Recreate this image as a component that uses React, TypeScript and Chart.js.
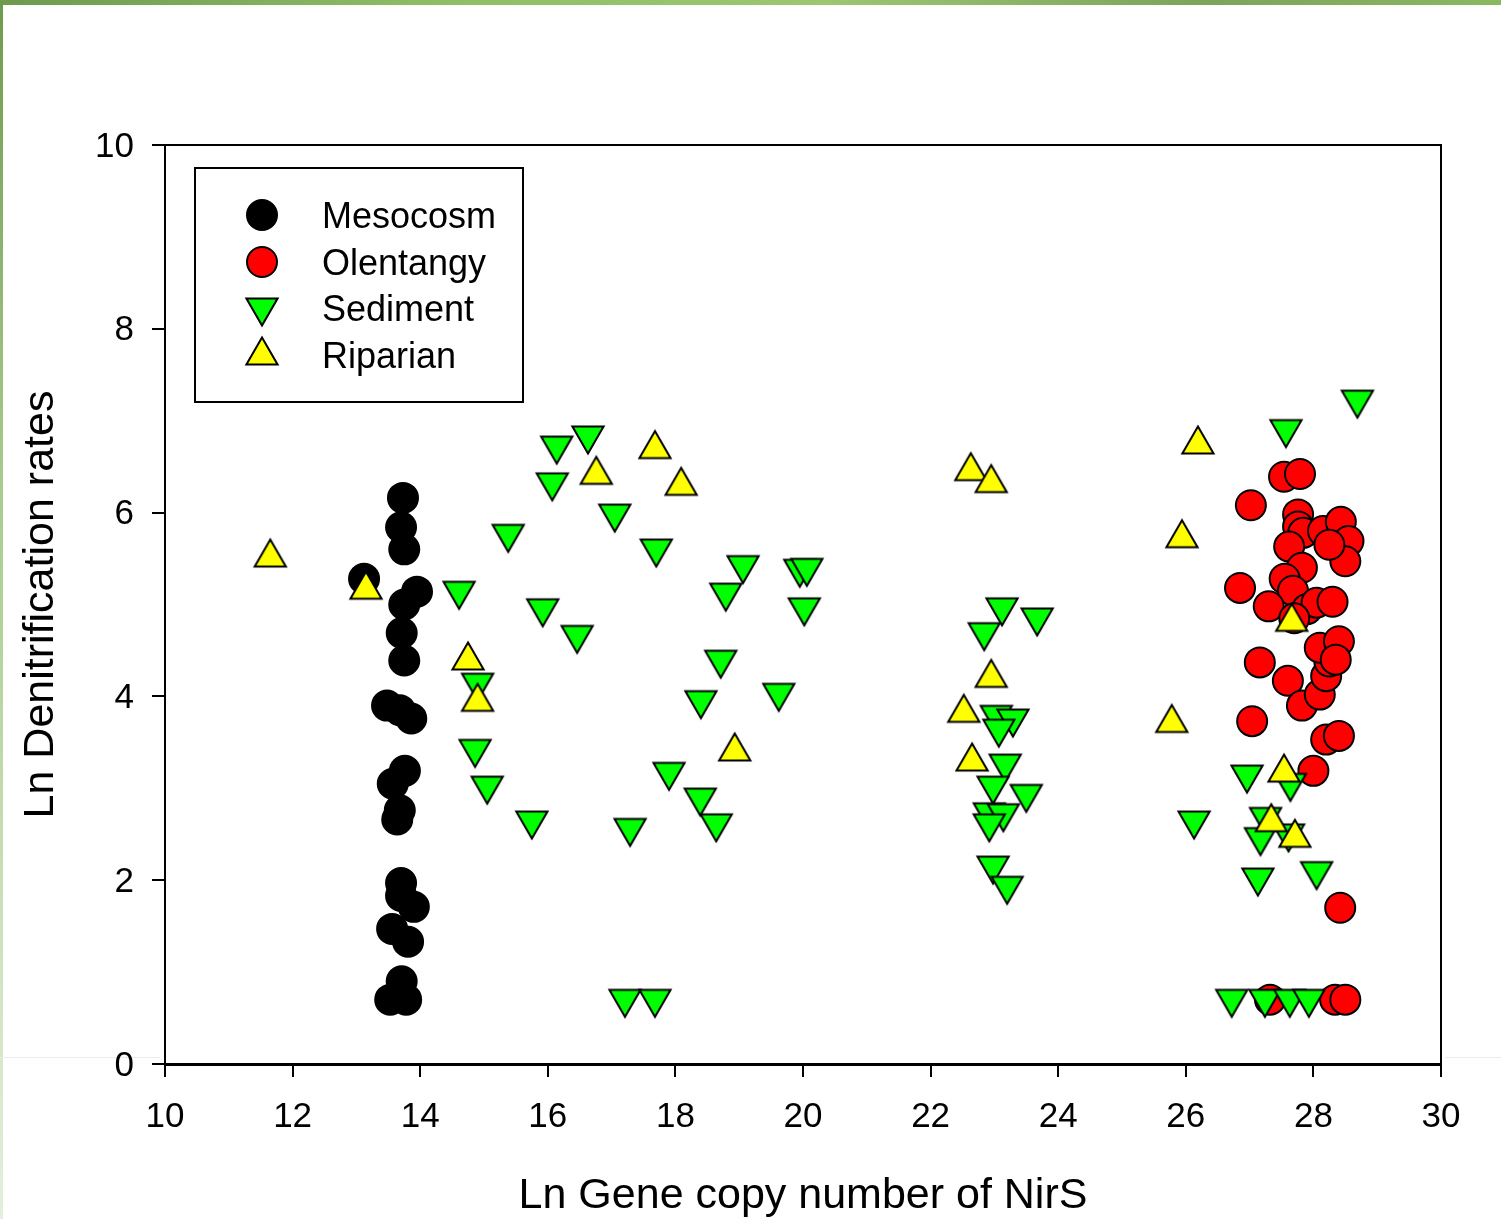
import React, { useEffect, useRef } from "react";
import { Chart, registerables } from "chart.js";

Chart.register(...registerables);

const FONT = "'Liberation Sans', Arial, Helvetica, sans-serif";

// ---- Data (Ln gene copy number of NirS vs Ln denitrification rates) ----
const seriesNames = ["Mesocosm", "Olentangy", "Sediment", "Riparian"];
const xTicks = [10, 12, 14, 16, 18, 20, 22, 24, 26, 28, 30];
const yTicks = [0, 2, 4, 6, 8, 10];

const mesocosmX = [13.73, 13.70, 13.75, 13.12, 13.95, 13.75, 13.71, 13.75, 13.48, 13.68, 13.86, 13.76, 13.57, 13.68, 13.64, 13.70, 13.70, 13.90, 13.56, 13.81, 13.71, 13.53, 13.78];
const mesocosmY = [6.16, 5.84, 5.60, 5.28, 5.14, 5.00, 4.69, 4.39, 3.90, 3.85, 3.76, 3.19, 3.05, 2.76, 2.66, 1.97, 1.83, 1.71, 1.47, 1.33, 0.90, 0.70, 0.70];

const olentangyX = [27.54, 27.79, 27.02, 27.76, 27.76, 27.84, 28.15, 28.43, 28.55, 28.50, 27.62, 27.82, 28.25, 26.85, 27.55, 27.68, 27.30, 27.90, 28.05, 28.30, 27.70, 27.16, 27.60, 27.82, 28.10, 28.20, 28.25, 28.10, 28.40, 27.04, 28.20, 28.40, 28.00, 28.42, 27.32, 28.34, 28.50, 28.35];
const olentangyY = [6.39, 6.42, 6.08, 5.98, 5.85, 5.78, 5.80, 5.90, 5.69, 5.47, 5.63, 5.40, 5.65, 5.18, 5.28, 5.15, 4.98, 4.95, 5.02, 5.03, 4.85, 4.37, 4.17, 3.90, 4.02, 4.22, 4.38, 4.53, 4.60, 3.73, 3.53, 3.57, 3.19, 1.70, 0.70, 0.70, 0.70, 4.40];

const sedimentX = [14.61, 14.90, 14.86, 15.05, 15.38, 15.75, 15.92, 16.07, 16.14, 16.46, 16.63, 17.05, 17.21, 17.29, 17.68, 17.70, 17.90, 18.39, 18.40, 18.64, 18.71, 18.79, 19.06, 19.62, 19.95, 20.06, 20.02,
  23.12, 23.67, 22.84, 23.03, 23.29, 23.07, 23.17, 22.98, 23.50, 22.92, 23.14, 22.92, 22.98, 23.20,
  28.69, 27.57, 26.96, 27.64, 27.25, 27.17, 27.61, 26.13, 27.13, 28.05, 26.72, 27.24, 27.63, 27.93];
const sedimentY = [5.10, 4.10, 3.38, 2.98, 5.72, 2.60, 4.91, 6.28, 6.68, 4.62, 6.79, 5.94, 0.66, 2.52, 0.66, 5.56, 3.13, 2.85, 3.91, 2.57, 4.35, 5.08, 5.38, 3.99, 5.34, 5.35, 4.92,
  4.92, 4.81, 4.65, 3.75, 3.71, 3.60, 3.22, 2.98, 2.89, 2.69, 2.68, 2.57, 2.11, 1.89,
  7.18, 6.86, 3.10, 3.01, 2.64, 2.42, 2.46, 2.60, 1.98, 2.05, 0.66, 0.66, 0.66, 0.66];

const riparianX = [11.65, 13.15, 14.75, 14.90, 16.76, 17.68, 18.09, 18.93, 22.63, 22.95, 22.95, 22.52, 22.65, 25.78, 25.94, 26.19, 27.66, 27.54, 27.34, 27.71];
const riparianY = [5.56, 5.21, 4.44, 3.99, 6.46, 6.74, 6.34, 3.45, 6.50, 6.37, 4.25, 3.87, 3.34, 3.76, 5.77, 6.79, 4.86, 3.22, 2.68, 2.51];

const xTitle = "Ln Gene copy number of NirS";
const yTitle = "Ln Denitrification rates";

const toPoints = (xs: number[], ys: number[]) => xs.map((x, i) => ({ x, y: ys[i] }));

const COLORS = ["#000000", "#ff0000", "#00ff00", "#ffff00"];

// Triangle marker image centred on its bounding box (as in the source figure)
function triangleImage(color: string, down: boolean): HTMLCanvasElement {
  const c = document.createElement("canvas");
  c.width = 38;
  c.height = 34;
  const ctx = c.getContext("2d")!;
  const cx = 19, cy = 17, hw = 15.6, hh = 13.5;
  ctx.beginPath();
  if (down) {
    ctx.moveTo(cx - hw, cy - hh);
    ctx.lineTo(cx + hw, cy - hh);
    ctx.lineTo(cx, cy + hh);
  } else {
    ctx.moveTo(cx, cy - hh);
    ctx.lineTo(cx + hw, cy + hh);
    ctx.lineTo(cx - hw, cy + hh);
  }
  ctx.closePath();
  ctx.fillStyle = color;
  ctx.fill();
  ctx.lineWidth = 2;
  ctx.lineJoin = "miter";
  ctx.strokeStyle = "#000";
  ctx.stroke();
  return c;
}

const framePlugin = {
  id: "frame",
  beforeDatasetsDraw(chart: any) {
    const { ctx, chartArea: a } = chart;
    ctx.save();
    ctx.strokeStyle = "#000";
    ctx.lineWidth = 2;
    ctx.beginPath();
    ctx.moveTo(a.left, a.top);
    ctx.lineTo(a.right, a.top);
    ctx.lineTo(a.right, a.bottom);
    ctx.stroke();
    ctx.restore();
  },
};

export default function App() {
  const ref = useRef<HTMLCanvasElement>(null);
  useEffect(() => {
    document.body.style.margin = "0";
    const downTri = triangleImage(COLORS[2], true);
    const upTri = triangleImage(COLORS[3], false);
    const styles: any[] = ["circle", "circle", downTri, upTri];

    const legendPlugin = {
      id: "boxLegend",
      afterDraw(chart: any) {
        const ctx: CanvasRenderingContext2D = chart.ctx;
        ctx.save();
        ctx.fillStyle = "#fff";
        ctx.fillRect(195, 168, 328, 234);
        ctx.strokeStyle = "#000";
        ctx.lineWidth = 2;
        ctx.strokeRect(195, 168, 328, 234);
        const rows = [215, 262, 308, 355];
        const markerY = [215, 262, 312, 351];
        seriesNames.forEach((name, i) => {
          if (i < 2) {
            ctx.beginPath();
            ctx.arc(262, markerY[i], 15, 0, Math.PI * 2);
            ctx.fillStyle = COLORS[i];
            ctx.fill();
            ctx.lineWidth = 2;
            ctx.strokeStyle = "#000";
            ctx.stroke();
          } else {
            const img = styles[i] as HTMLCanvasElement;
            ctx.drawImage(img, 262 - img.width / 2, markerY[i] - img.height / 2);
          }
          ctx.fillStyle = "#000";
          ctx.font = `36px ${FONT}`;
          ctx.textBaseline = "middle";
          ctx.textAlign = "left";
          ctx.fillText(name, 322, rows[i] + 3);
        });
        ctx.restore();
      },
    };

    const tickFont = { family: FONT, size: 35 };
    const titleFont = { family: FONT, size: 43, lineHeight: 1.05 };
    const common = (n: string, i: number) => ({
      label: n,
      pointRadius: 15,
      pointHoverRadius: 15,
      pointStyle: styles[i],
      backgroundColor: COLORS[i],
      borderColor: "#000",
      borderWidth: 2,
      order: 3 - i,
    });
    const chart = new Chart(ref.current!, {
      type: "scatter",
      data: {
        datasets: [
          { ...common(seriesNames[0], 0), data: toPoints(mesocosmX, mesocosmY) },
          { ...common(seriesNames[1], 1), data: toPoints(olentangyX, olentangyY) },
          { ...common(seriesNames[2], 2), data: toPoints(sedimentX, sedimentY) },
          { ...common(seriesNames[3], 3), data: toPoints(riparianX, riparianY) },
        ] as any,
      },
      options: {
        animation: false,
        responsive: false,
        events: [],
        layout: { padding: { left: 0, right: 60, top: 145, bottom: 0 } },
        plugins: { legend: { display: false }, tooltip: { enabled: false } },
        scales: {
          x: {
            type: "linear",
            min: xTicks[0],
            max: xTicks[xTicks.length - 1],
            afterBuildTicks: (s: any) => { s.ticks = xTicks.map((v) => ({ value: v })); },
            ticks: { font: tickFont, color: "#000", padding: 19, maxRotation: 0, autoSkip: false },
            grid: { display: true, drawOnChartArea: false, drawTicks: true, tickLength: 13, color: "#000", lineWidth: 2 },
            border: { display: true, color: "#000", width: 3 },
            title: { display: true, text: xTitle, font: titleFont, color: "#000", padding: { top: 0, bottom: 0 } },
            afterFit: (s: any) => { s.height = 155; },
          },
          y: {
            type: "linear",
            min: yTicks[0],
            max: yTicks[yTicks.length - 1],
            afterBuildTicks: (s: any) => { s.ticks = yTicks.map((v) => ({ value: v })); },
            ticks: { font: { family: FONT, size: 35, lineHeight: 1.0 }, color: "#000", padding: 18, autoSkip: false, labelOffset: 2 },
            grid: { display: true, drawOnChartArea: false, drawTicks: true, tickLength: 13, color: "#000", lineWidth: 2 },
            border: { display: true, color: "#000", width: 2 },
            title: { display: true, text: yTitle, font: { family: FONT, size: 43 }, color: "#000", padding: { top: 15, bottom: 0 } },
            afterFit: (s: any) => { s.width = 165; },
          },
        },
      } as any,
      plugins: [framePlugin, legendPlugin],
    });
    return () => chart.destroy();
  }, []);

  return (
    <div style={{ position: "relative", width: 1501, height: 1219, background: "#fff", overflow: "hidden" }}>
      <div style={{ position: "absolute", left: 0, top: 0, width: 1501, height: 5, background: "linear-gradient(90deg, #6f9a4e 0%, #8fbe68 30%, #9cc672 55%, #7ea35a 80%, #8ab862 100%)" }} />
      <div style={{ position: "absolute", left: 0, top: 0, width: 3, height: 1219, background: "linear-gradient(180deg, #6f9a4e 0%, #a8cc8c 40%, #e4efdc 100%)" }} />
      <div style={{ position: "absolute", left: 0, top: 1057, width: 160, height: 1, background: "#ececec" }} />
      <div style={{ position: "absolute", left: 1445, top: 1057, width: 56, height: 1, background: "#ececec" }} />
      <canvas ref={ref} width={1501} height={1219} style={{ position: "absolute", left: 0, top: 0, width: 1501, height: 1219 }} />
    </div>
  );
}
